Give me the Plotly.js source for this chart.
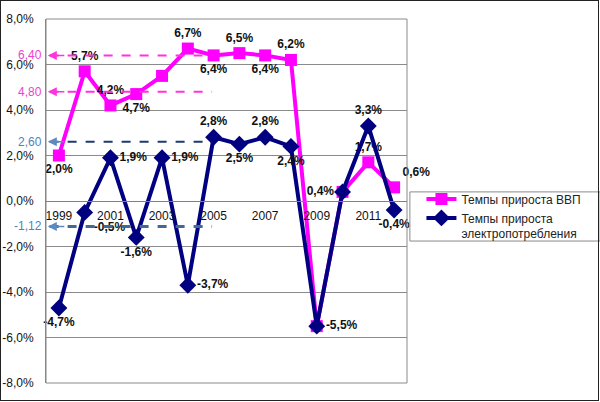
<!DOCTYPE html>
<html><head><meta charset="utf-8">
<script src="https://cdn.plot.ly/plotly-3.0.1.min.js"></script>
<style>html,body{margin:0;padding:0;background:#fff}#wrap{position:relative;width:600px;height:402px}#frame{position:absolute;left:0;top:0;width:599px;height:401px;border:1px solid #222;box-sizing:border-box;pointer-events:none}</style>
</head><body><div id="wrap"><div id="chart" style="width:600px;height:402px"></div><div id="frame"></div></div>
<script>
const years = ['1999','2000','2001','2002','2003','2004','2005','2006','2007','2008','2009','2010','2011','2012'];
const gdp = [2.0, 5.7, 4.2, 4.7, 5.5, 6.7, 6.4, 6.5, 6.4, 6.2, -5.5, 0.4, 1.7, 0.6];
const elec = [-4.7, -0.5, 1.9, -1.6, 1.9, -3.7, 2.8, 2.5, 2.8, 2.4, -5.5, 0.4, 3.3, -0.4];
const gdpLabelShown = [1,1,1,1,0,1,1,1,1,1,0,1,1,1];
const elecLabelShown = [1,1,1,1,1,1,1,1,1,1,1,0,1,1];
const gdpPos = ['bottom center','top center','top center','bottom center','top center','top center','bottom center','top center','bottom center','top center','top center','middle left','top center','top right'];
const elecPos = ['bottom center','bottom right','middle right','bottom center','middle right','middle right','top center','bottom center','top center','bottom center','middle right','middle left','top center','bottom center'];
const xTickVals = ['1999','2001','2003','2005','2007','2009','2011'];
const yTickVals = [-8,-6,-4,-2,0,2,4,6,8];
const yTickText = ['-8,0%','-6,0%','-4,0%','-2,0%','0,0%','2,0%','4,0%','6,0%','8,0%'];
const refValues = [6.40, 4.80, 2.60, -1.12];
const refLabels = ['6,40','4,80','2,60','-1,12'];
const refLineColors = ['#ff33dd','#ff33dd','#1f3a6e','#3f6a96'];
const refTextColors = ['#ee3fd0','#ee3fd0','#4f81bd','#4f81bd'];
const seriesNames = ['Темпы прироста ВВП','Темпы прироста<br>электропотребления'];

const fmt = v => v.toFixed(1).replace('.', ',') + '%';
const labelFont = {family:'Liberation Sans, Arial', size:12, color:'#111', weight:'bold'};

const traces = [
  {x: years, y: gdp, name: seriesNames[0], type:'scatter', mode:'lines+markers+text',
   line:{color:'#ff00ff', width:4}, marker:{symbol:'square', size:12, color:'#ff00ff'},
   text: gdp.map((v,i)=> gdpLabelShown[i] ? fmt(v) : ''), textposition: gdpPos, textfont: labelFont, cliponaxis:false},
  {x: years, y: elec, name: seriesNames[1], type:'scatter', mode:'lines+markers+text',
   line:{color:'#000080', width:4}, marker:{symbol:'diamond', size:13, color:'#000080'},
   text: elec.map((v,i)=> elecLabelShown[i] ? fmt(v) : ''), textposition: elecPos, textfont: labelFont, cliponaxis:false}
];

const shapes = [
  {type:'line', xref:'x', yref:'paper', x0:'2005', x1:'2005', y0:0, y1:1, line:{color:'#7fa2cc', width:1}, layer:'below'},
  {type:'rect', xref:'paper', yref:'paper', x0:0, x1:1, y0:0, y1:1, line:{color:'#8a8a8a', width:1}},
  {type:'rect', xref:'paper', yref:'paper', x0:1.008, x1:1.535, y0:0.39, y1:0.525, line:{color:'#8a8a8a', width:1}}
];
const annotations = [];
refValues.forEach((v,i)=>{
  shapes.push({type:'line', xref:'paper', yref:'y', x0:0.01, x1:0.46, y0:v, y1:v,
    line:{color:refLineColors[i], width: i===3 ? 3 : 2, dash:'dash'}});
  annotations.push({xref:'paper', yref:'y', x:0.005, y:v, text:'', showarrow:true, ax:18, ay:0,
    arrowhead:2, arrowsize:1.2, arrowwidth:1.5, arrowcolor: i<2 ? '#ff33dd' : '#5f8ac0'});
  annotations.push({xref:'paper', yref:'y', x:-0.005, y:v, xanchor:'right', yanchor:'middle', text:refLabels[i],
    showarrow:false, font:{family:'Liberation Sans, Arial', size:12, color:refTextColors[i]}});
});

const layout = {
  width:600, height:402, margin:{l:46, r:193, t:19, b:19},
  paper_bgcolor:'#fff', plot_bgcolor:'#fff', showlegend:true,
  font:{family:'Liberation Sans, Arial', size:12, color:'#222'},
  xaxis:{type:'category', range:[-0.5,13.5], anchor:'free', position:0.5, showline:true, linecolor:'#808080',
    showgrid:false, tickvals:xTickVals, ticktext:xTickVals, ticks:'', zeroline:false, ticklabelstandoff:4,
    tickfont:{family:'Liberation Sans, Arial', size:12, color:'#111'}},
  yaxis:{range:[-8,8], tickvals:yTickVals, ticktext:yTickText, showgrid:true, gridcolor:'#8a8a8a', gridwidth:1,
    zeroline:false, showline:true, linecolor:'#808080', ticks:'', ticklen:0, ticklabelstandoff:9,
    tickfont:{family:'Liberation Sans, Arial', size:12, color:'#111'}},
  legend:{x:1.04, y:0.545, xanchor:'left', yanchor:'top', bgcolor:'rgba(0,0,0,0)', borderwidth:0,
    font:{family:'Liberation Sans, Arial', size:12, color:'#222'}, valign:'top', tracegroupgap:7},
  shapes: shapes, annotations: annotations
};
Plotly.newPlot('chart', traces, layout, {displayModeBar:false, staticPlot:true});
</script></body></html>
